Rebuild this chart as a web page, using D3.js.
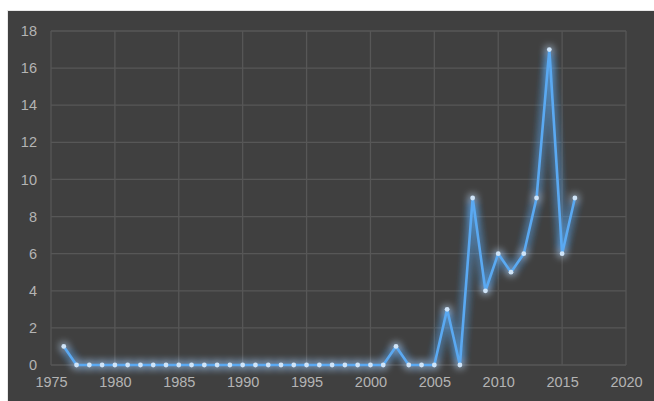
<!DOCTYPE html>
<html>
<head>
<meta charset="utf-8">
<script src="https://cdn.jsdelivr.net/npm/d3@7"></script>
<style>
  body { margin: 0; background: #fff; }
  svg { display: block; }
</style>
</head>
<body>
<div id="chart"></div>
<script>
// years and counts
var years = [1976, 1977, 1978, 1979, 1980, 1981, 1982, 1983, 1984, 1985,
             1986, 1987, 1988, 1989, 1990, 1991, 1992, 1993, 1994, 1995,
             1996, 1997, 1998, 1999, 2000, 2001, 2002, 2003, 2004, 2005,
             2006, 2007, 2008, 2009, 2010, 2011, 2012, 2013, 2014, 2015, 2016];
var counts = [1, 0, 0, 0, 0, 0, 0, 0, 0, 0,
              0, 0, 0, 0, 0, 0, 0, 0, 0, 0,
              0, 0, 0, 0, 0, 0, 1, 0, 0, 0,
              3, 0, 9, 4, 6, 5, 6, 9, 17, 6, 9];
var xTicks = [1975, 1980, 1985, 1990, 1995, 2000, 2005, 2010, 2015, 2020];
var yTicks = [0, 2, 4, 6, 8, 10, 12, 14, 16, 18];

var W = 654, H = 401;
var margin = {top: 31, right: 28, bottom: 36, left: 51};
var width = W - margin.left - margin.right,
    height = H - margin.top - margin.bottom;

var svg = d3.select("#chart").append("svg")
    .attr("width", W)
    .attr("height", H);

// dark panel with a light edge
svg.append("rect")
    .attr("x", 7).attr("y", 10)
    .attr("width", W - 7).attr("height", H - 10)
    .attr("fill", "#e8e8e8");
svg.append("rect")
    .attr("x", 8).attr("y", 11)
    .attr("width", W - 8).attr("height", H - 11)
    .attr("fill", "#404040");

// glow filter
var defs = svg.append("defs");
var f = defs.append("filter").attr("id", "glow")
    .attr("x", "-20%").attr("y", "-20%").attr("width", "140%").attr("height", "140%");
f.append("feGaussianBlur").attr("in", "SourceGraphic").attr("stdDeviation", 4).attr("result", "blur");
var merge = f.append("feMerge");
merge.append("feMergeNode").attr("in", "blur");
merge.append("feMergeNode").attr("in", "blur");
merge.append("feMergeNode").attr("in", "SourceGraphic");

var g = svg.append("g")
    .attr("transform", "translate(" + margin.left + "," + margin.top + ")");

var x = d3.scaleLinear().domain([1975, 2020]).range([0, width]);
var y = d3.scaleLinear().domain([0, 18]).range([height, 0]);

// grid
g.append("g")
    .selectAll("line.h")
    .data(yTicks)
    .enter().append("line")
        .attr("x1", 0).attr("x2", width)
        .attr("y1", function(d) { return y(d); })
        .attr("y2", function(d) { return y(d); })
        .attr("stroke", "#575757").attr("stroke-width", 1.3);
g.append("g")
    .selectAll("line.v")
    .data(xTicks)
    .enter().append("line")
        .attr("y1", 0).attr("y2", height)
        .attr("x1", function(d) { return x(d); })
        .attr("x2", function(d) { return x(d); })
        .attr("stroke", "#575757").attr("stroke-width", 1.3);

// axes (labels only, grid drawn above)
var xAxis = g.append("g")
    .attr("transform", "translate(0," + height + ")")
    .call(d3.axisBottom(x).tickValues(xTicks).tickFormat(d3.format("d")).tickSize(0).tickPadding(12));
var yAxis = g.append("g")
    .call(d3.axisLeft(y).tickValues(yTicks).tickSize(0).tickPadding(14));
[xAxis, yAxis].forEach(function(a) {
    a.select(".domain").remove();
    a.selectAll("text")
        .attr("fill", "#b4b4b4")
        .style("font-family", "Liberation Sans, Arial, sans-serif")
        .style("font-size", "14.5px");
});

var data = years.map(function(d, i) { return {year: d, count: counts[i]}; });

var line = d3.line()
    .x(function(d) { return x(d.year); })
    .y(function(d) { return y(d.count); });

var glow = g.append("g").attr("filter", "url(#glow)");
glow.append("path")
    .datum(data)
    .attr("d", line)
    .attr("fill", "none")
    .attr("stroke", "#5aa9f2")
    .attr("stroke-width", 2.6)
    .attr("stroke-linejoin", "round");

glow.selectAll("circle")
    .data(data)
    .enter().append("circle")
        .attr("cx", function(d) { return x(d.year); })
        .attr("cy", function(d) { return y(d.count); })
        .attr("r", 2.4)
        .attr("fill", "#cfe4f8");
</script>
</body>
</html>
